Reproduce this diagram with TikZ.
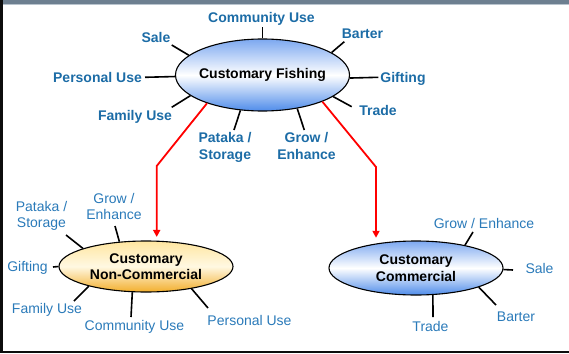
\documentclass[tikz,border=0pt]{standalone}
\usepackage{fontspec}
\setmainfont{Liberation Sans}
\usetikzlibrary{shapes.geometric,arrows.meta}
\definecolor{topblue}{HTML}{1C6CA6}
\definecolor{lowblue}{HTML}{2A7AB9}
\definecolor{barcol}{HTML}{6D7F90}
\definecolor{barline}{HTML}{B9C4CE}
\definecolor{bluetop}{HTML}{7CA8F0}
\definecolor{bluebot}{HTML}{4F8CEA}
\definecolor{goldtop}{HTML}{FFE6A0}
\definecolor{goldmid}{HTML}{FFF8E2}
\definecolor{goldbot}{HTML}{F2AE2C}
\begin{document}
\begin{tikzpicture}[x=1pt,y=-1pt,
  oval/.style={ellipse,draw=black,line width=1.1pt,inner sep=0pt},
  blueoval/.style={oval,top color=bluetop,bottom color=bluebot,middle color=white},
  goldoval/.style={oval,top color=goldtop,bottom color=goldbot,middle color=goldmid},
  nodetext/.style={font=\fontsize{14}{16.5}\selectfont\bfseries,align=center,text=black,inner sep=0pt},
  toplabel/.style={font=\fontsize{14}{17}\selectfont\bfseries,text=topblue,align=center,anchor=base,inner sep=0pt},
  lowlabel/.style={font=\fontsize{14}{16}\selectfont,text=lowblue,align=center,anchor=base,inner sep=0pt},
  spoke/.style={draw=black,line width=1.6pt},
  flow/.style={draw=red,line width=1.8pt,-{Triangle[length=7pt,width=7pt]}}]
\useasboundingbox (0,0) rectangle (569,353);
% frame: grey title strip, dark left edge, dark bottom rule
\fill[barcol] (0,0) rectangle (569,4.5);
\fill[barline] (0,4.5) rectangle (569,5.5);
\fill[black!95] (0,0) rectangle (3,353);
\fill[black!95] (0,351.3) rectangle (569,353);

% the three ovals
\node[blueoval,minimum width=174pt,minimum height=72pt,
  label={[nodetext]center:Customary Fishing}] (fish) at (262.5,75) {};
\node[goldoval,minimum width=174pt,minimum height=51pt,
  label={[nodetext]center:Customary\\Non-Commercial}] (noncom) at (146,266.5) {};
\node[blueoval,minimum width=174pt,minimum height=54pt,
  label={[nodetext]center:Customary\\Commercial}] (com) at (416,268) {};

% labels round the upper oval (two-line labels sit on their last baseline)
\node[toplabel] (f-comm) at (261.5,22.7) {Community Use};
\node[toplabel] (f-sale) at (156,43) {Sale};
\node[toplabel] (f-bart) at (362.5,39) {Barter};
\node[toplabel] (f-pers) at (97.5,82) {Personal Use};
\node[toplabel] (f-gift) at (403,82) {Gifting};
\node[toplabel] (f-fam) at (135,120) {Family Use};
\node[toplabel] (f-trade) at (378,115) {Trade};
\node[toplabel] (f-pat) at (225,159.5) {Pataka /\\Storage};
\node[toplabel] (f-grow) at (306.5,159.5) {Grow /\\Enhance};

% labels round the non-commercial oval
\node[lowlabel] (n-pat) at (41.5,227) {Pataka /\\Storage};
\node[lowlabel] (n-grow) at (114,219.5) {Grow /\\Enhance};
\node[lowlabel] (n-gift) at (27.5,271) {Gifting};
\node[lowlabel] (n-fam) at (47,313.5) {Family Use};
\node[lowlabel] (n-comm) at (134.5,330) {Community Use};
\node[lowlabel] (n-pers) at (249.5,325) {Personal Use};

% labels round the commercial oval
\node[lowlabel] (c-grow) at (484,228.3) {Grow / Enhance};
\node[lowlabel] (c-sale) at (539.5,273) {Sale};
\node[lowlabel] (c-bart) at (516,321) {Barter};
\node[lowlabel] (c-trade) at (430.5,331) {Trade};

% outer ends of the spokes
\coordinate (fe-comm) at (262.5,27);
\coordinate (fe-sale) at (171.7,45);
\coordinate (fe-pers) at (145,77.3);
\coordinate (fe-fam) at (171.7,107.3);
\coordinate (fe-pat) at (234,130);
\coordinate (fe-grow) at (304.3,130);
\coordinate (fe-trade) at (351.7,106.7);
\coordinate (fe-gift) at (378.3,77.3);
\coordinate (fe-bart) at (344.3,41.7);

\coordinate (ne-grow) at (115,226);
\coordinate (ne-pat) at (66,235);
\coordinate (ne-gift) at (53,267);
\coordinate (ne-fam) at (74,301);
\coordinate (ne-comm) at (131,317);
\coordinate (ne-pers) at (208,308);

\coordinate (ce-grow) at (473,232);
\coordinate (ce-sale) at (513,270);
\coordinate (ce-bart) at (496,305);
\coordinate (ce-trade) at (433,317);

% spokes
\draw[spoke] (fish.90) -- (fe-comm);
\draw[spoke] (fish.165.4) -- (fe-sale);
\draw[spoke] (fish.181.5) -- (fe-pers);
\draw[spoke] (fish.196.5) -- (fe-fam);
\draw[spoke] (fish.238) -- (fe-pat);
\draw[spoke] (fish.316.6) -- (fe-grow);
\draw[spoke] (fish.343.8) -- (fe-trade);
\draw[spoke] (fish.358.5) -- (fe-gift);
\draw[spoke] (fish.18.6) -- (fe-bart);

\draw[spoke] (noncom.137.7) -- (ne-grow);
\draw[spoke] (noncom.164.7) -- (ne-pat);
\draw[spoke] (noncom.180) -- (ne-gift);
\draw[spoke] (noncom.199.8) -- (ne-fam);
\draw[spoke] (noncom.242.2) -- (ne-comm);
\draw[spoke] (noncom.334.9) -- (ne-pers);

\draw[spoke] (com.25.6) -- (ce-grow);
\draw[spoke] (com.359) -- (ce-sale);
\draw[spoke] (com.343.5) -- (ce-bart);
\draw[spoke] (com.302.2) -- (ce-trade);

% red flow arrows
\coordinate (bendL) at (156.7,166);
\coordinate (bendR) at (376,167);
\draw[flow,shorten >=3.5pt] (fish.207.1) -- (bendL) -- (bendL |- noncom.north);
\draw[flow,shorten >=2.7pt] (fish.336.1) -- (bendR) -- (bendR |- com.north);
\end{tikzpicture}
\end{document}
